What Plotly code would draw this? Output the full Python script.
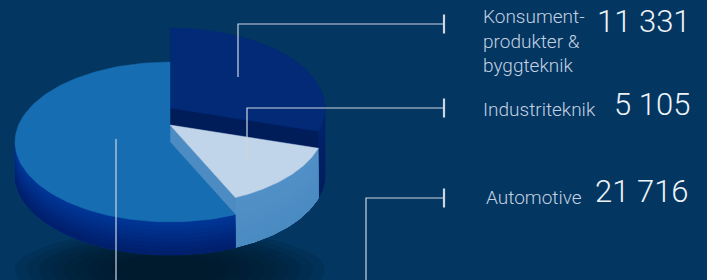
import math
import plotly.graph_objects as go

# ---- data ----
categories = ["Konsument-produkter & byggteknik", "Industriteknik", "Automotive"]
label_lines = ["Konsument-<br>produkter &<br>byggteknik", "Industriteknik", "Automotive"]
values = [11331, 5105, 21716]

# ---- style / layout ----
W, H = 707, 280
BG = "#033661"
CX, CY_BASE = 170, 175          # centre of bottom plane
RX, RY = 155, 80                # ellipse radii
heights = [67, 50, 33]          # decorative extrusion heights per slice
top_cols = ["#022a77", "#c1d5ea", "#176db1"]
side_cols = [["#00236c", "#001d5e"], ["#5190c6", "#4a8bc2"], ["#003596", "#001f6c"]]
face_cols = ["#001d5a", "#4c8cc3", "#00308f"]
LINE_COL = "#cdd6e1"

TICK_X = 444
leaders = [
    [(238, 77), (238, 24), (TICK_X, 24)],
    [(247, 162), (247, 108), (TICK_X, 108)],
    [(366, 290), (366, 198), (TICK_X, 198)],
]
extra_leader = [(116, 139), (116, 290)]
label_pos = [(481, 40.5), (481, 109), (484, 197)]
value_pos = [(693, 21.5), (692, 104), (691, 191.5)]


def pt(theta, h, r=1.0):
    t = math.radians(theta)
    return CX + r * RX * math.cos(t), CY_BASE - h - r * RY * math.sin(t)


def arc(a_from, a_to, h, n=60):
    return [pt(a_from + (a_to - a_from) * k / n, h) for k in range(n + 1)]


def poly(fig, pts, color, lw=0.0):
    xs = [p[0] for p in pts] + [pts[0][0]]
    ys = [p[1] for p in pts] + [pts[0][1]]
    fig.add_trace(go.Scatter(x=xs, y=ys, mode="lines", fill="toself",
                             fillcolor=color, line=dict(width=lw, color=color),
                             hoverinfo="skip", showlegend=False))


def mix(c0, c1, t):
    a = [int(c0[j:j + 2], 16) for j in (1, 3, 5)]
    b = [int(c1[j:j + 2], 16) for j in (1, 3, 5)]
    return "rgb(%d,%d,%d)" % tuple(round(a[m] + (b[m] - a[m]) * t) for m in range(3))


fig = go.Figure()

# soft shadow beneath pie
for k in range(10):
    f = 1 - k / 12
    rx, ry = 145 * f + 10, 36 * f + 4
    pts = [(CX + rx * math.cos(math.radians(a)), 270 + ry * math.sin(math.radians(a)))
           for a in range(0, 361, 6)]
    poly(fig, pts, "rgba(0,18,38,0.14)")

total = sum(values)
angles = []
start = 90.0
for v in values:
    end = start - 360.0 * v / total
    angles.append((start, end))
    start = end

for i, (a0, a1) in enumerate(angles):
    h = heights[i]
    if math.sin(math.radians(a1 - 90)) < -1e-6:
        poly(fig, [(CX, CY_BASE - h), pt(a1, h), pt(a1, 0), (CX, CY_BASE)], face_cols[i], 0.6)
    lo, hi = max(a1, -180.0), min(a0, 0.0)
    if hi > lo:
        nb = 8
        c0, c1 = side_cols[i]
        for b in range(nb):
            h_top = h * (1 - b / nb)
            col = mix(c0, c1, b / (nb - 1))
            poly(fig, arc(hi, lo, h_top) + arc(lo, hi, 0), col, 0.6 if b == 0 else 0.0)
    poly(fig, [(CX, CY_BASE - h)] + arc(a0, a1, h, 120), top_cols[i], 0.5)


def line(pts, width=1.2, color=LINE_COL):
    fig.add_trace(go.Scatter(x=[p[0] for p in pts], y=[p[1] for p in pts], mode="lines",
                             line=dict(color=color, width=width), hoverinfo="skip",
                             showlegend=False))


for ld in leaders:
    line(ld)
    tx, ty = ld[-1]
    line([(tx, ty - 9.5), (tx, ty + 9.5)], width=2.2)
line(extra_leader)

annotations = []
for i, cat in enumerate(categories):
    lx, ly = label_pos[i]
    annotations.append(dict(x=lx, y=ly, xref="x", yref="y", text=label_lines[i],
                            showarrow=False, xanchor="left", yanchor="middle", align="left",
                            font=dict(family="Roboto", size=19, color="#c4d1e1", weight=300)))
    vx, vy = value_pos[i]
    annotations.append(dict(x=vx, y=vy, xref="x", yref="y",
                            text=f"{values[i]:,}".replace(",", " "),
                            showarrow=False, xanchor="right", yanchor="middle",
                            font=dict(family="Roboto", size=31, color="#eef3f8", weight=300)))

fig.update_layout(
    width=W, height=H, margin=dict(l=0, r=0, t=0, b=0),
    paper_bgcolor=BG, plot_bgcolor=BG,
    xaxis=dict(range=[0, W], visible=False, fixedrange=True),
    yaxis=dict(range=[H, 0], visible=False, fixedrange=True),
    annotations=annotations, showlegend=False,
)

fig.write_html("out.html", config={"displayModeBar": False},
               post_script="document.body.style.margin='0';document.body.style.background='%s';" % BG)
